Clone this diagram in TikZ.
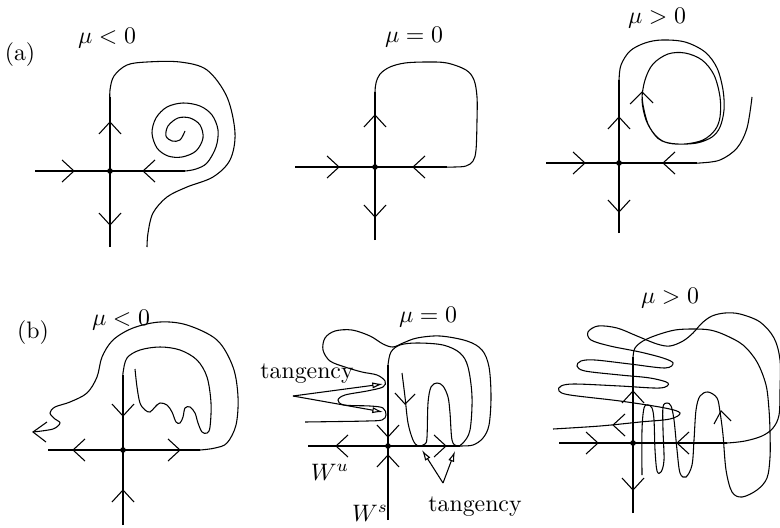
\documentclass[tikz,border=0pt]{standalone}
\usetikzlibrary{arrows.meta}
\newcommand\chvR[2]{\draw[shift={(#1,#2)}] (-12,-11)--(0,0)--(-12,11);}
\newcommand\chvL[2]{\draw[shift={(#1,#2)}] (12,-11)--(0,0)--(12,11);}
\newcommand\chvU[2]{\draw[shift={(#1,#2)}] (-11,12)--(0,0)--(11,12);}
\newcommand\chvD[2]{\draw[shift={(#1,#2)}] (-11,-12)--(0,0)--(11,-12);}
\begin{document}
\begin{tikzpicture}[x=0.42pt,y=-0.42pt,line width=0.45pt,
  crv/.style={smooth,tension=0.55},
  dot/.style={circle,fill,inner sep=0pt,minimum size=2.4pt},
  lbl/.style={inner sep=0pt},
  tang/.style={-{Latex[open,length=4.5pt,width=2.6pt]}}]
\useasboundingbox (0,0) rectangle (780,527);

% ---------------- labels
\node[lbl] (la) at (20,55) {(a)};
\node[lbl] (lb) at (33,333) {(b)};
\node[lbl] (m1) at (107,38) {$\mu<0$};
\node[lbl] (m2) at (414,37) {$\mu=0$};
\node[lbl] (m3) at (657,18) {$\mu>0$};
\node[lbl] (m4) at (121,320) {$\mu<0$};
\node[lbl] (m5) at (428,317) {$\mu=0$};
\node[lbl] (m6) at (670,298) {$\mu>0$};

% ---------------- panel a1
\node[dot] (s1) at (110,171) {};
\draw (35,171) -- (185,171);
\draw (110,247) -- (110,97);
\draw plot[crv] coordinates {(110,105) (110,90) (114,76) (127,65) (147,62) (180,62) (207,70) (227,97) (235,133) (230,160) (213,177) (187,187) (167,197) (153,213) (148,233) (147,247)};
\draw plot[crv] coordinates {(175,171) (185,171) (196,169) (207,163) (216,147) (218,130) (212,115) (200,106) (183,103) (167,107) (156,118) (152,133) (157,148) (168,156) (182,157) (196,151) (203,138) (200,125) (190,118) (178,118) (168,126) (166,136) (172,141) (180,140) (185,131)};
\chvU{110}{122}
\chvD{110}{225}
\chvR{74}{171}
\chvL{143}{171}

% ---------------- panel a2
\node[dot] (s2) at (375,167) {};
\draw (295,167) -- (447,167);
\draw (375,240) -- (375,92);
\draw plot[crv] coordinates {(440,167) (455,167) (466,166) (473,161) (476,150) (477,120) (477,97) (474,80) (466,70) (447,63) (427,62) (405,63) (390,67) (380,74) (376,83) (375,92) (375,100)};
\chvU{375}{115}
\chvD{375}{217}
\chvR{339}{167}
\chvL{413}{167}

% ---------------- panel a3
\node[dot] (s3) at (619,163) {};
\draw (546,163) -- (697,163);
\draw (619,233) -- (619,80);
\draw plot[crv] coordinates {(690,163) (700,163) (720,160) (737,148) (747,128) (752,97)};
\draw plot[crv] coordinates {(619,90) (619,80) (621,65) (630,51) (645,43) (662,40) (685,42) (705,52) (717,68) (723,90) (724,110) (720,127) (712,137) (697,143) (677,144) (662,141) (654,134) (646,120) (642,100) (645,80) (653,64) (668,54) (685,53) (702,60) (714,75) (720,97) (720,117) (715,130) (703,140) (685,144) (668,143) (657,137) (648,124) (643,105) (642,92)};
\draw (630,104) -- (642,92) -- (653,103);
\chvU{619}{117}
\chvD{619}{212}
\chvR{585}{163}
\chvL{663}{163}

% ---------------- panel b1
\node[dot] (s4) at (123,450) {};
\draw (48,450) -- (200,450);
\draw (123,525) -- (123,375);
\draw plot[crv] coordinates {(190,450) (200,450) (215,448) (227,443) (236,425) (238,397) (233,367) (217,340) (187,325) (160,322) (133,328) (113,340) (102,357) (97,377) (87,393) (70,402) (55,407) (50,413) (55,419) (60,423) (53,429) (33,432)};
\draw (47,422) -- (33,432) -- (46,442);
\draw plot[crv] coordinates {(123,383) (123,373) (127,358) (140,350) (160,347) (180,350) (197,360) (207,377) (211,403) (210,427) (207,433) (202,432) (198,423) (195,413) (190,407) (185,408) (183,417) (180,423) (176,422) (172,412) (167,405) (160,403) (155,407) (150,412) (145,410) (140,403) (137,387) (135,369)};
\chvD{123}{416}
\chvU{123}{490}
\chvL{73}{450}
\chvR{180}{450}

% ---------------- panel b2
\node[dot] (s5) at (388,446) {};
\draw (308,446) -- (460,446);
\draw (388,520) -- (388,365);
\draw plot[crv] coordinates {(450,446) (460,446) (473,445) (483,438) (489,425) (491,397) (489,367) (482,350) (467,341) (440,336) (417,338) (403,343) (393,347) (383,344) (370,336) (352,330) (335,331) (325,338) (323,350) (330,361) (345,367) (362,372) (377,375) (385,381) (383,387) (367,391) (345,395) (338,400) (344,405) (370,406) (383,408) (386,415) (382,420) (367,421) (340,421.5) (305,422)};
\draw plot[crv] coordinates {(388,375) (388,365) (391,352) (400,345) (417,343) (443,345) (460,353) (468,367) (472,397) (470,430) (463,443) (457,446) (452,440) (450,413) (448,397) (443,386) (437,383) (431,387) (428,403) (427,437) (425,444) (418,446) (413,440) (408,423) (405,397) (402,373)};
\draw (395,393) -- (405,404) -- (415,394);
\chvD{388}{437}
\chvU{388}{455}
\chvL{336}{446}
\chvR{446}{446}
\node[lbl] (tg1) at (307,374) {tangency};
\coordinate (ap1) at (293,396);
\coordinate (tp1) at (383,384);
\coordinate (tp2) at (383,412);
\draw[tang] (ap1) -- (tp1);
\draw[tang] (ap1) -- (tp2);
\node[lbl] (tg2) at (475,507) {tangency};
\coordinate (ap2) at (443,483);
\coordinate (tp3) at (422,450);
\coordinate (tp4) at (455,451);
\draw[tang] (ap2) -- (tp3);
\draw[tang] (ap2) -- (tp4);
\node[lbl] (wu) at (330,472) {$W^u$};
\node[lbl] (ws) at (370,513) {$W^s$};

% ---------------- panel b3
\node[dot] (s6) at (633,443) {};
\draw (559,443) -- (727,443);
\draw (633,513) -- (633,357);
\draw plot[crv] coordinates {(715,443) (727,443) (745,441) (762,436) (773,428) (779,415) (780,390) (780,360) (774,338) (760,322) (740,314) (725,313) (712,316) (702,323) (693,333) (683,341) (670,346) (657,344) (637,336) (617,328) (598,326) (588,332) (591,340) (610,346) (640,352) (663,358) (673,363) (665,368) (630,364) (595,360) (581,361) (577,366) (585,371) (620,375) (650,378) (668,383) (660,388) (620,386) (575,384) (561,386) (559,391) (570,395) (620,401) (665,408) (680,413) (670,419) (640,422) (600,426) (553,429)};
\draw plot[crv] coordinates {(633,365) (633,357) (635,348) (643,341) (657,335) (675,330) (693,329) (710,330) (725,335) (743,345) (757,362) (766,385) (769,410) (770,433) (770,457) (767,478) (757,490) (742,497) (732,492) (726,470) (723,435) (720,412) (717,398) (708,392) (700,396) (696,410) (694,440) (692,465) (686,477) (680,473) (677,450) (674,420) (671,406) (667,403) (663,407) (663,430) (664,460) (661,472) (657,471) (655,450) (654,420) (652,408) (648,405) (644,408) (642,430) (642,475)};
\draw (714,424) -- (721,411) -- (731,421);
\chvU{633}{391}
\chvD{633}{490}
\chvR{598}{443}
\chvL{677}{443}
\chvL{613}{425}
\end{tikzpicture}
\end{document}
